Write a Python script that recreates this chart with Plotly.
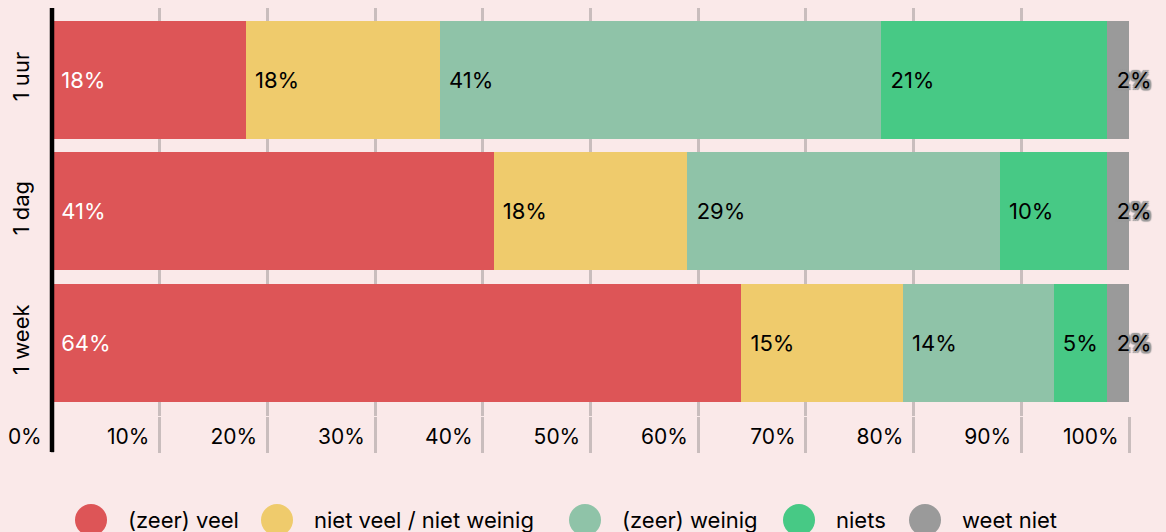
import plotly.graph_objects as go

# survey answers per period, percentages
periods = ['1 uur', '1 dag', '1 week']
categories = ['(zeer) veel', 'niet veel / niet weinig', '(zeer) weinig', 'niets', 'weet niet']
zeer_veel = [18, 41, 64]
niet_veel_niet_weinig = [18, 18, 15]
zeer_weinig = [41, 29, 14]
niets = [21, 10, 5]
weet_niet = [2, 2, 2]
x_ticks = list(range(0, 101, 10))

series = [zeer_veel, niet_veel_niet_weinig, zeer_weinig, niets, weet_niet]
colors = ['#dd5557', '#efcb6c', '#8fc3a8', '#47c985', '#9a9a9a']
text_colors = ['white', 'black', 'black', 'black', 'black']

FONT = 'Inter'
BG = '#fae9e9'
GRID = '#c9bdbd'
OUTLINE = ('-2px -2px 1px #999, 2px -2px 1px #999, -2px 2px 1px #999, 2px 2px 1px #999, '
           '0 2px 1px #999, 0 -2px 1px #999, 2px 0 1px #999, -2px 0 1px #999')

fig = go.Figure()

for name, vals, col, tcol in zip(categories, series, colors, text_colors):
    fig.add_trace(go.Bar(
        y=periods, x=vals, name=name, orientation='h',
        marker=dict(color=col, line=dict(width=0)),
        text=['\u00a0%d%%' % v for v in vals], textposition='inside',
        insidetextanchor='start', textangle=0, constraintext='none',
        cliponaxis=False,
        textfont=dict(family=FONT, size=22, color=tcol,
                      shadow=OUTLINE if name == 'weet niet' else 'none'),
        hoverinfo='skip', showlegend=False,
    ))

# legend drawn by hand so the dots can be as big as in the original
legend_dot_x = [91, 277, 585, 799, 925]   # pixel centres
plot_left, plot_w, plot_bottom, plot_h = 52, 1077, 416, 408
shapes = []
annotations = []
for name, col, px in zip(categories, colors, legend_dot_x):
    yc = (plot_bottom - 520) / plot_h
    shapes.append(dict(type='circle', xref='paper', yref='paper',
                       xsizemode='pixel', ysizemode='pixel',
                       xanchor=(px - plot_left) / plot_w, yanchor=yc,
                       x0=-16, x1=16, y0=-16, y1=16,
                       fillcolor=col, line=dict(width=0)))
    annotations.append(dict(xref='paper', yref='paper',
                            x=(px + 35 - plot_left) / plot_w, y=yc,
                            xanchor='left', yanchor='middle', showarrow=False,
                            text=name, font=dict(family=FONT, size=22, color='black')))

# black axis line at 0%, running down to the end of the ticks
shapes.append(dict(type='line', xref='paper', yref='paper', x0=0, x1=0,
                   y0=-36 / plot_h, y1=1, line=dict(color='black', width=4.5),
                   layer='above'))

fig.update_layout(
    width=1166, height=532,
    margin=dict(l=52, r=37, t=8, b=116),
    paper_bgcolor=BG, plot_bgcolor=BG,
    barmode='stack', bargap=0.103,
    font=dict(family=FONT, size=22, color='black'),
    shapes=shapes, annotations=annotations,
    showlegend=False,
    xaxis=dict(range=[0, 100], tickvals=x_ticks,
               ticktext=['%d%%' % v for v in x_ticks],
               showgrid=True, gridcolor=GRID, gridwidth=2.5,
               ticks='outside', ticklen=36, tickwidth=2.5, tickcolor=GRID,
               ticklabelposition='outside left', ticklabelshift=-9,
               ticklabelstandoff=2,
               zeroline=False, showline=False, fixedrange=True,
               tickfont=dict(family=FONT, size=21, color='black')),
    yaxis=dict(range=[2.555, -0.546], tickangle=-90, showgrid=False,
               zeroline=False, showline=False, ticks='', fixedrange=True,
               ticklabelstandoff=18,
               tickfont=dict(family=FONT, size=22, color='black')),
)

fig.write_html("out.html", config={'displayModeBar': False},
               post_script="document.body.style.margin='0';")
